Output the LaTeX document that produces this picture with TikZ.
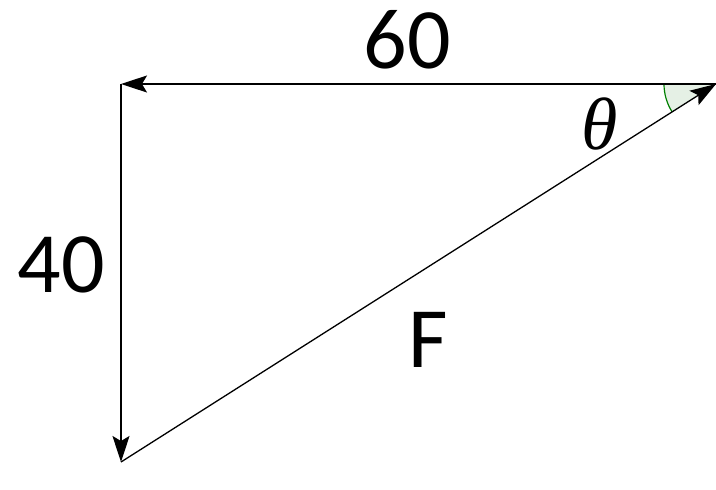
\documentclass[tikz,border=0pt]{standalone}
\usepackage{fontspec}
\setmainfont{Carlito}
\newfontfamily\thfont{Liberation Serif}
\usetikzlibrary{arrows.meta}
\begin{document}
\begin{tikzpicture}[x=1pt,y=-1pt,
  vec/.style={line width=1.3pt,-{Stealth[length=26pt,width=17pt,inset=5pt]}},
  lbl/.style={font=\fontsize{86}{86}\selectfont,inner sep=0pt}]
\useasboundingbox (0,0) rectangle (716,490);
\coordinate (A) at (716,84);
\coordinate (B) at (121,84);
\coordinate (C) at (121,462);
\fill[green!40!black!10] (A) -- ++(180:52) arc[start angle=180, end angle=147.6, radius=52] -- cycle;
\draw[green!50!black, line width=1.2pt] (A) ++(180:52) arc[start angle=180, end angle=147.6, radius=52];
\draw[vec] (A) -- (B);
\draw[vec] (B) -- (C);
\draw[vec] (C) -- (A);
\node[lbl] (t60) at (407,40) {60};
\node[lbl] (t40) at (61,265) {40};
\node[lbl] (tF) at (428,340) {F};
\node[inner sep=0pt,font=\thfont\itshape\fontsize{74}{74}\selectfont] (th) at (600,124) {θ};
\end{tikzpicture}
\end{document}
